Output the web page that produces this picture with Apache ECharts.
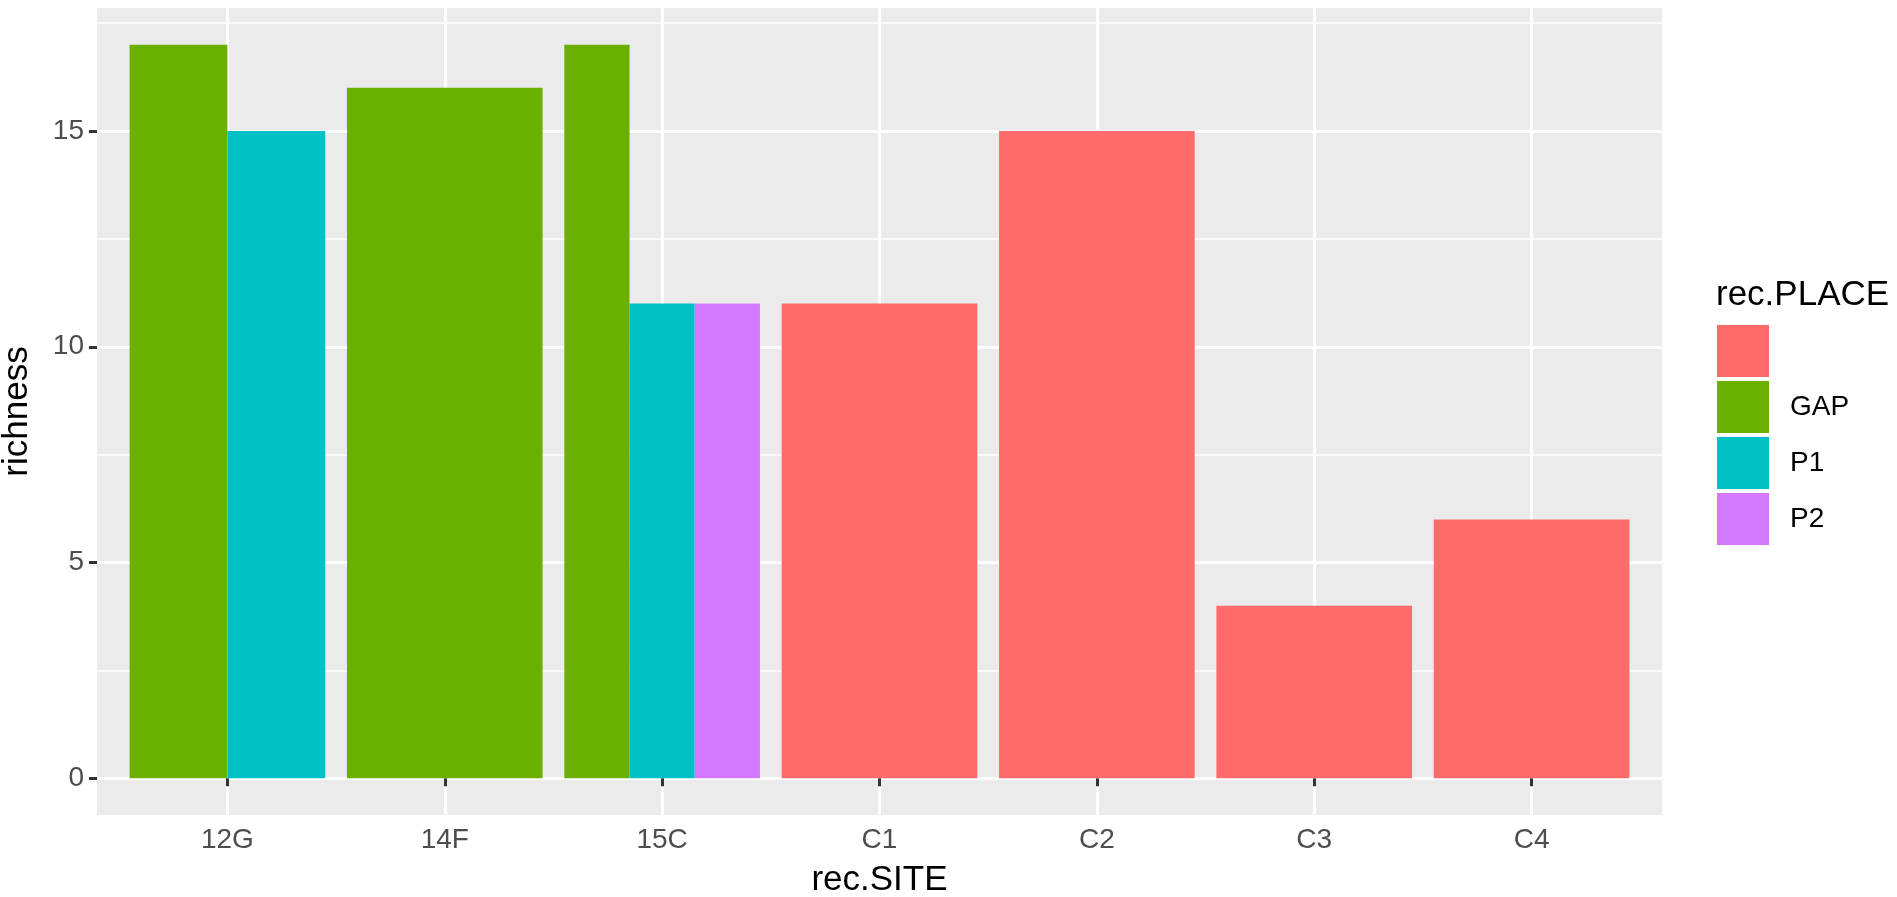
<!DOCTYPE html>
<html><head><meta charset="utf-8">
<script src="https://cdn.jsdelivr.net/npm/echarts@6/dist/echarts.min.js"></script>
<style>html,body{margin:0;padding:0;background:#fff}#c{width:1897px;height:897px}</style>
</head><body><div id="c"></div>
<script>
const sites = ['12G','14F','15C','C1','C2','C3','C4'];
const places = ['', 'GAP', 'P1', 'P2'];
const rowSite = ['12G','12G','14F','15C','15C','15C','C1','C2','C3','C4'];
const rowPlace = ['GAP','P1','GAP','GAP','P1','P2','','','',''];
const richness = [17,15,16,17,11,11,11,15,4,6];
const yTicks = [0,5,10,15];
const yMinor = [2.5,7.5,12.5,17.5];
const placeColors = ['#FF6B6B','#6BB000','#00C1C6','#D478FF'];

const FONT = '"Liberation Sans", Arial, Helvetica, sans-serif';
const groupCount = {}, groupIndex = [];
rowSite.forEach((s,i)=>{ groupIndex[i] = groupCount[s]||0; groupCount[s]=(groupCount[s]||0)+1; });
const xPos = sites.map((s,i)=>i+1);

const series = places.map((p,pi)=>({
  type:'custom', name: p===''?' ':p,
  xAxisIndex:0, yAxisIndex:0,
  itemStyle:{color:placeColors[pi]},
  data: rowSite.map((s,i)=> rowPlace[i]===p ? [sites.indexOf(s)+1, richness[i], groupIndex[i], groupCount[s]] : null).filter(d=>d),
  encode:{x:0,y:1},
  renderItem:(params, api)=>{
    const x = api.value(0), v = api.value(1), k = api.value(2), n = api.value(3);
    const w = 0.9/n; const l = x - 0.45 + k*w;
    const p1 = api.coord([l, v]); const p2 = api.coord([l+w, 0]);
    return {type:'rect', shape:{x:p1[0], y:p1[1], width:p2[0]-p1[0], height:p2[1]-p1[1]}, style:{fill: placeColors[pi]}};
  }
}));

const chart = echarts.init(document.getElementById('c'), null, {renderer:'canvas'});
chart.setOption({
  animation:false,
  backgroundColor:'#ffffff',
  textStyle:{fontFamily:FONT},
  grid:{left:97, top:8, width:1565, height:807, show:true, backgroundColor:'#EBEBEB', borderWidth:0, containLabel:false, outerBoundsMode:'none'},
  xAxis:[{type:'value', min:0.4, max:7.6, position:'bottom',
    axisLine:{show:false},
    axisTick:{show:true, length:8, lineStyle:{color:'#333333', width:3}, customValues:xPos},
    axisLabel:{customValues:xPos, formatter:v=>sites[Math.round(v)-1]||'', color:'#4D4D4D', fontSize:28, margin:11, fontFamily:FONT},
    splitLine:{show:true, lineStyle:{color:'#ffffff', width:3}},
    name:'rec.SITE', nameLocation:'middle', nameGap:48, nameTextStyle:{color:'#000', fontSize:35, fontFamily:FONT}
  }],
  yAxis:[{type:'value', min:-0.85, max:17.85, splitNumber:4, position:'left',
    axisLine:{show:false},
    axisTick:{show:true, length:8, lineStyle:{color:'#333333', width:3}, customValues:yTicks},
    axisLabel:{customValues:yTicks, color:'#4D4D4D', fontSize:28, margin:13, fontFamily:FONT},
    splitLine:{show:true, lineStyle:{color:'#ffffff', width:3}},
    name:'richness', nameLocation:'middle', nameGap:62, nameTextStyle:{color:'#000', fontSize:35, fontFamily:FONT}
  },{type:'value', min:-0.85, max:17.85, splitNumber:4, position:'left',
    axisLine:{show:false},
    axisTick:{show:false, customValues:yMinor},
    axisLabel:{show:false, customValues:yMinor},
    splitLine:{show:true, lineStyle:{color:'#ffffff', width:1.6}}
  }],
  legend:{orient:'vertical', left:1717, top:325, padding:0, itemWidth:52, itemHeight:52, itemGap:4, icon:'rect',
    selectedMode:false,
    textStyle:{fontSize:28, color:'#000', fontFamily:FONT, padding:[0,0,0,16]},
    data: places.map(p=>p===''?' ':p)
  },
  graphic:[{type:'text', x:1716, y:295, style:{text:'rec.PLACE', font:'35px ' + FONT, fill:'#000', align:'left', verticalAlign:'middle'}}],
  series: series
});
</script></body></html>
